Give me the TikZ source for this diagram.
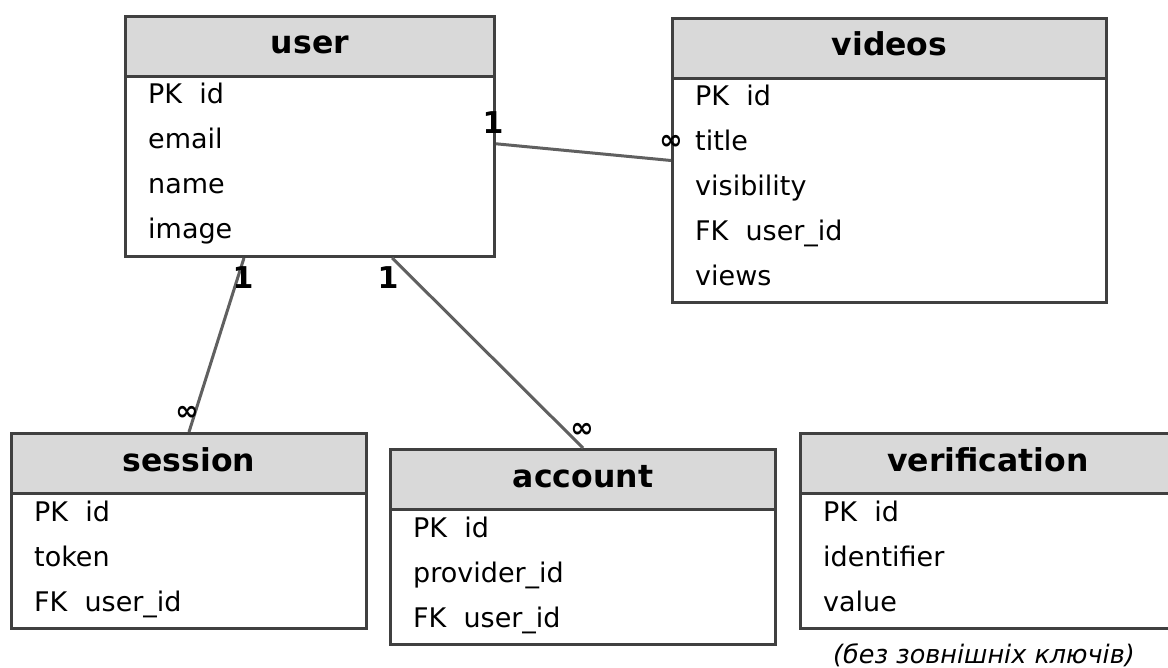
\documentclass[tikz,border=0pt]{standalone}
\usepackage{fontspec}
\setmainfont{DejaVu Sans}
\usetikzlibrary{calc}
\definecolor{boxline}{HTML}{404040}
\definecolor{headfill}{HTML}{D9D9D9}
\definecolor{relline}{HTML}{606060}
\tikzset{
  tablebox/.style={draw=boxline, line width=3pt, fill=white, anchor=north west, inner sep=0pt},
  tablehead/.style={draw=boxline, line width=3pt, fill=headfill, anchor=north west, inner sep=0pt,
    minimum height=60pt, text height=23pt, text depth=8pt,
    font=\fontsize{31.5}{36}\selectfont\bfseries},
  field/.style={anchor=base west, inner sep=0pt, font=\fontsize{27}{31}\selectfont},
  rel/.style={draw=relline, line width=3pt},
  one/.style={font=\fontsize{30}{34}\selectfont\bfseries, inner sep=0pt},
  many/.style={font=\fontsize{28}{32}\selectfont\bfseries, inner sep=0pt},
  note/.style={font=\fontsize{25.5}{30}\selectfont\itshape, inner sep=0pt},
}
% \erdtable{name}{x}{y}{width}{height}{title}{fields}
\newcommand{\erdtable}[7]{%
  \node[tablebox, minimum width=#4pt, minimum height=#5pt] (#1) at (#2,#3) {};
  \node[tablehead, minimum width=#4pt] (#1-head) at (#2,#3) {#6};
  \foreach \f [count=\i from 0] in {#7}
    \node[field] (#1-f\i) at ({#2+24},{#3+89+45*\i}) {\f};
}
\begin{document}
\begin{tikzpicture}[x=1pt, y=-1pt]
  \fill[white] (0,0) rectangle (1168,668);
  \useasboundingbox (0,0) rectangle (1168,668);

  % tables
  \erdtable{user}{124}{15}{369}{240}{user}{PK~~id, email, name, image}
  \erdtable{videos}{671}{17}{434}{284}{videos}{PK~~id, title, visibility, FK~~user\_id, views}
  \erdtable{session}{10}{432}{355}{195}{session}{PK~~id, token, FK~~user\_id}
  \erdtable{account}{389}{448}{385}{195}{account}{PK~~id, provider\_id, FK~~user\_id}
  \erdtable{verification}{799}{432}{375}{195}{verification}{PK~~id, identifier, value}

  % relationships
  \draw[rel] ($(user.north east)!0.53!(user.south east)$) -- (videos.west);
  \draw[rel] ($(user.south west)!0.3225!(user.south east)$) -- (session.north);
  \draw[rel] ($(user.south west)!0.721!(user.south east)$) -- (account.north);

  % cardinalities
  \node[one]  (c1) at (493,123) {1};
  \node[many] (m1) at (671,142) {∞};
  \node[one]  (c2) at (243,278) {1};
  \node[many] (m2) at (187,413) {∞};
  \node[one]  (c3) at (388,278) {1};
  \node[many] (m3) at (582,430) {∞};

  \node[note] (nofk) at (984,655) {(без зовнішніх ключів)};
\end{tikzpicture}
\end{document}
